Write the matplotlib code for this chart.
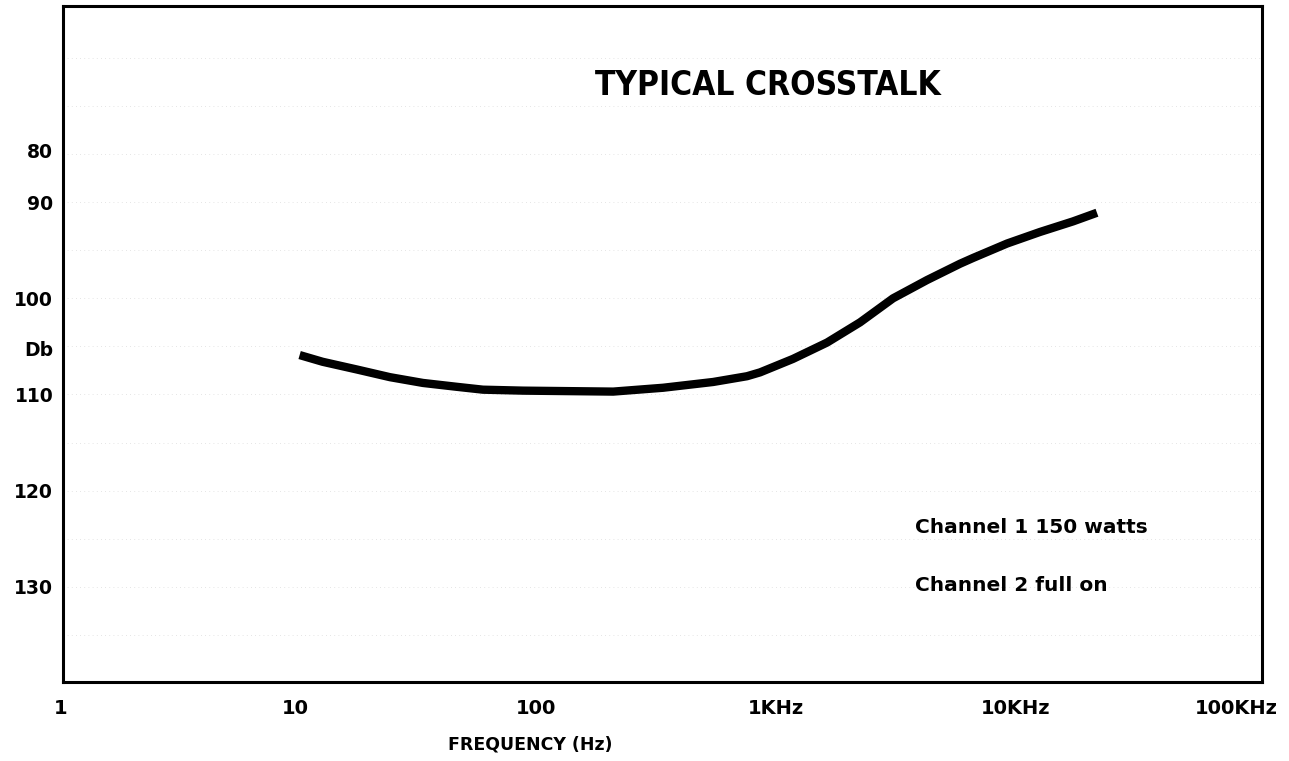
import matplotlib.pyplot as plt
import matplotlib.transforms as mtransforms
import numpy as np

# curve: frequency (Hz) and crosstalk (dB, drawn downward)
freq_hz = [9.7, 12.1, 16.8, 23.1, 31.7, 43.8, 56.4, 82.9, 197.0, 318.0,
           514.0, 712.0, 807.0, 1107.0, 1535.0, 2107.0, 2893.0, 4009.0,
           5508.0, 6240.0, 8650.0, 11860.0, 16290.0, 20500.0]
crosstalk_db = [105.9, 106.6, 107.4, 108.2, 108.8, 109.2, 109.5, 109.6, 109.7, 109.3,
                108.7, 108.1, 107.7, 106.3, 104.6, 102.5, 100.0, 98.1,
                96.4, 95.8, 94.3, 93.1, 92.0, 91.1]

x_ticks = [1, 10, 100, 1000, 10000, 100000]
x_labels = ['1', '10', '100', '1KHz', '10KHz', '100KHz']
y_ticks = [84.6, 90, 100, 105.2, 110, 120, 130]
y_labels = ['80', '90', '100', 'Db', '110', '120', '130']
notes = ['Channel 1 150 watts', 'Channel 2 full on']

fig = plt.figure(figsize=(12.89, 7.61), dpi=100)
ax = fig.add_axes([63 / 1289, 1 - 682 / 761, (1262 - 63) / 1289, (682 - 6) / 761])

# faint scan-like dotted rules
for yv in np.arange(75, 140, 5):
    ax.axhline(yv, color='#dcdcdc', lw=0.6, ls=(0, (1, 4)), zorder=0)

ax.plot(freq_hz, crosstalk_db, color='black', lw=6, solid_capstyle='butt',
        solid_joinstyle='round')

ax.set_xscale('log')
ax.set_xlim(1, 100000)
ax.set_ylim(139.9, 69.6)
ax.set_xticks(x_ticks)
ax.set_xticklabels(x_labels)
ax.minorticks_off()
ax.set_yticks(y_ticks)
ax.set_yticklabels(y_labels)
ax.tick_params(axis='y', length=0, labelsize=13.5, pad=7)
ax.tick_params(axis='x', length=0, labelsize=14, pad=12)
for lab in ax.get_xticklabels() + ax.get_yticklabels():
    lab.set_fontweight('bold')

# the printed x labels sit a little left of the decades
xlabs = ax.get_xticklabels()
shifts = [-2, -7, -7, -7, -7, -26]
for lab, dx in zip(xlabs, shifts):
    lab.set_transform(lab.get_transform() + mtransforms.ScaledTranslation(dx / 100, 0, fig.dpi_scale_trans))

for s in ax.spines.values():
    s.set_linewidth(2.2)

ax.text(0.588, 0.883, 'TYPICAL CROSSTALK', transform=ax.transAxes, ha='center', va='center',
        fontsize=24, fontweight='bold', fontstretch='condensed')
ax.text(0.711, 0.228, notes[0], transform=ax.transAxes, ha='left', va='center',
        fontsize=14.5, fontweight='bold')
ax.text(0.711, 0.143, notes[1], transform=ax.transAxes, ha='left', va='center',
        fontsize=14.5, fontweight='bold')

fig.text(530 / 1289, 1 - 745 / 761, 'FREQUENCY (Hz)', ha='center', va='center',
         fontsize=12.5, fontweight='bold')

fig.savefig('out.png', dpi=100)
